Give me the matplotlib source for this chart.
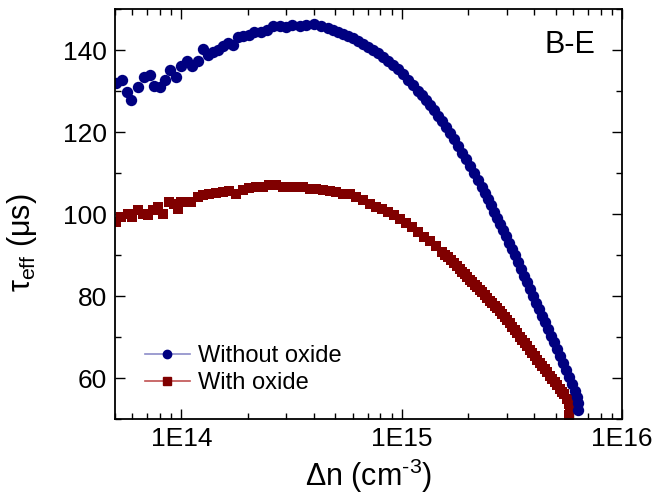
import matplotlib
matplotlib.use('Agg')
import matplotlib.pyplot as plt
from matplotlib.lines import Line2D
from matplotlib.ticker import MultipleLocator, LogLocator, NullFormatter

plt.rcParams['font.family'] = ['Liberation Sans', 'DejaVu Sans']
plt.rcParams['mathtext.fontset'] = 'custom'
plt.rcParams['mathtext.rm'] = 'Liberation Sans'
plt.rcParams['mathtext.it'] = 'Liberation Sans'

# without oxide (blue circles)
blue_x = [5.06e13, 5.38e13, 5.64e13, 5.93e13, 6.36e13, 6.74e13, 7.21e13, 7.54e13,
          8.00e13, 8.46e13, 8.91e13, 9.46e13, 9.97e13, 1.065e14, 1.118e14, 1.186e14,
          1.259e14, 1.317e14, 1.398e14, 1.462e14, 1.541e14, 1.635e14, 1.723e14, 1.803e14,
          1.913e14, 2.022e14, 2.147e14, 2.303e14, 2.442e14, 2.619e14, 2.790e14, 2.991e14,
          3.185e14, 3.440e14, 3.689e14, 3.981e14, 4.315e14, 4.61e14,
          4.86e14, 5.12e14, 5.39e14, 5.68e14, 5.99e14, 6.31e14, 6.65e14, 7.01e14,
          7.38e14, 7.78e14, 8.20e14, 8.64e14, 9.10e14, 9.59e14, 1.010e15, 1.065e15,
          1.122e15, 1.182e15,
          1.233e15, 1.286e15, 1.341e15, 1.398e15, 1.458e15, 1.520e15, 1.585e15, 1.653e15,
          1.723e15, 1.797e15, 1.874e15, 1.954e15, 2.038e15, 2.125e15, 2.216e15,
          2.310e15,
          2.384e15, 2.460e15, 2.538e15, 2.619e15, 2.703e15, 2.790e15, 2.878e15, 2.970e15,
          3.065e15, 3.162e15, 3.263e15, 3.368e15, 3.475e15, 3.586e15, 3.700e15, 3.818e15,
          3.940e15, 4.066e15, 4.195e15, 4.329e15, 4.467e15, 4.609e15, 4.756e15, 4.908e15,
          5.064e15, 5.226e15, 5.392e15, 5.564e15, 5.741e15, 5.924e15, 6.113e15,
          6.243e15, 6.342e15, 6.310e15]
blue_y = [132.0, 132.7, 129.8, 127.9, 130.9, 133.5, 133.9, 131.3,
          130.9, 132.7, 135.1, 133.4, 136.1, 137.3, 136.0, 137.3,
          140.3, 138.8, 139.4, 139.9, 141.0, 141.8, 141.1, 143.2,
          143.3, 143.6, 144.3, 144.4, 144.9, 145.8, 145.8, 145.6,
          146.2, 145.9, 146.2, 146.4, 145.8, 145.3,
          145.0, 144.5, 144.0, 143.5, 142.9, 142.2, 141.5, 140.8,
          140.0, 139.2, 138.3, 137.4, 136.4, 135.3, 134.1, 132.8,
          131.5, 130.1,
          129.0, 127.8, 126.5, 125.3, 124.0, 122.6, 121.2, 119.8,
          118.3, 116.7, 115.0, 113.4, 111.8, 110.1, 108.4,
          106.6,
          105.2, 103.7, 102.2, 100.6, 99.1, 97.6, 96.2, 94.6,
          93.0, 91.5, 89.9, 88.2, 86.6, 85.0, 83.3, 81.7,
          80.1, 78.4, 76.8, 75.2, 73.6, 71.9, 70.3, 68.7,
          67.0, 65.4, 63.7, 62.0, 60.3, 58.6, 56.9,
          55.4, 54.0, 52.3]

# with oxide (red squares)
red_x = [5.06e13, 5.32e13, 5.70e13, 6.00e13, 6.33e13, 6.67e13, 7.03e13, 7.41e13,
         7.80e13, 8.22e13, 8.82e13, 9.29e13, 9.62e13, 9.97e13, 1.050e14, 1.107e14,
         1.186e14, 1.250e14, 1.341e14, 1.438e14, 1.541e14, 1.653e14, 1.773e14, 1.899e14,
         2.038e14, 2.186e14, 2.342e14, 2.512e14, 2.694e14, 2.887e14, 3.097e14, 3.322e14,
         3.560e14, 3.818e14, 4.096e14, 4.388e14, 4.707e14, 5.049e14, 5.411e14, 5.803e14,
         6.224e14, 6.669e14, 7.153e14,
         7.62e14, 8.11e14, 8.64e14, 9.19e14, 9.79e14, 1.043e15, 1.110e15, 1.182e15,
         1.259e15, 1.341e15, 1.427e15,
         1.520e15, 1.569e15, 1.619e15, 1.670e15, 1.723e15, 1.778e15, 1.835e15, 1.884e15,
         1.934e15, 1.985e15, 2.038e15, 2.092e15, 2.147e15, 2.204e15, 2.262e15, 2.322e15,
         2.384e15, 2.447e15, 2.512e15, 2.579e15, 2.647e15, 2.717e15, 2.790e15, 2.863e15,
         2.939e15, 3.017e15, 3.097e15, 3.179e15, 3.263e15, 3.350e15, 3.440e15, 3.530e15,
         3.624e15, 3.720e15, 3.818e15, 3.919e15, 4.023e15, 4.130e15, 4.240e15, 4.351e15,
         4.467e15, 4.585e15, 4.707e15, 4.832e15, 4.960e15, 5.090e15, 5.226e15, 5.338e15,
         5.450e15, 5.623e15, 5.741e15, 5.832e15, 5.771e15]
red_y = [98.1, 99.3, 100.1, 99.3, 100.9, 100.1, 99.7, 100.9,
         101.7, 100.1, 102.9, 102.5, 101.3, 102.9, 102.9, 102.9,
         104.2, 104.6, 104.8, 105.1, 105.4, 105.6, 105.0, 105.9,
         106.4, 106.6, 106.7, 107.0, 107.0, 106.7, 106.7, 106.7,
         106.6, 106.2, 106.2, 105.8, 105.6, 105.4, 105.0, 104.8,
         104.2, 103.5, 102.5,
         101.8, 101.1, 100.4, 99.7, 98.9, 97.9, 96.9, 95.7,
         94.5, 93.3, 92.1,
         90.8, 90.1, 89.4, 88.7, 88.0, 87.3, 86.5, 85.9,
         85.3, 84.7, 84.0, 83.4, 82.8, 82.2, 81.5, 80.9,
         80.2, 79.6, 78.9, 78.3, 77.6, 77.0, 76.3, 75.6,
         74.8, 74.1, 73.3, 72.5, 71.7, 70.9, 70.1, 69.3,
         68.5, 67.7, 66.9, 66.1, 65.3, 64.5, 63.7, 63.0,
         62.2, 61.4, 60.6, 59.8, 59.0, 58.2, 57.4, 56.7,
         56.0, 54.9, 53.7, 52.6, 51.0]

x_ticks = [1e14, 1e15, 1e16]
x_tick_labels = ['1E14', '1E15', '1E16']

fig = plt.figure(figsize=(6.55, 5.0), dpi=100)
ax = fig.add_axes([0.1756, 0.162, 0.774, 0.820])

ax.plot(red_x, red_y, 's', color='#800000', ms=7.2, mew=0)
ax.plot(blue_x, blue_y, 'o', color='#000080', ms=8.2, mew=0)

ax.set_xscale('log')
ax.set_xlim(5e13, 1e16)
ax.set_ylim(50, 150)
ax.set_xticks(x_ticks)
ax.set_xticklabels(x_tick_labels)
ax.xaxis.set_minor_locator(LogLocator(base=10, subs=range(2, 10)))
ax.xaxis.set_minor_formatter(NullFormatter())
ax.yaxis.set_major_locator(MultipleLocator(20))
ax.yaxis.set_minor_locator(MultipleLocator(10))

ax.tick_params(which='both', direction='in', top=True, right=True, width=1.0,
               labelsize=19, pad=6)
ax.tick_params(which='major', length=7)
ax.tick_params(which='minor', length=4)
for s in ax.spines.values():
    s.set_linewidth(1.3)

ax.set_xlabel(r'$\Delta$n (cm$^{\text{-}3}$)', fontsize=22, labelpad=4)
ax.set_ylabel(r'$\tau_{\mathrm{eff}}$ ($\mu$s)', fontsize=22)
ax.yaxis.set_label_coords(-0.15, 0.43)

ax.text(0.897, 0.912, 'B-E', transform=ax.transAxes, fontsize=22,
        ha='center', va='center')

handles = [Line2D([], [], color='#8c8cc8', lw=1.2, marker='o', ms=6,
                  mfc='#000080', mec='#000080'),
           Line2D([], [], color='#c05050', lw=1.2, marker='s', ms=5.5,
                  mfc='#800000', mec='#800000')]
ax.legend(handles, ['Without oxide', 'With oxide'], loc='center left',
          bbox_to_anchor=(0.059, 0.12), frameon=False, fontsize=17,
          handlelength=1.9, handletextpad=0.35, labelspacing=0.2,
          borderpad=0, borderaxespad=0)

fig.savefig('out.png', dpi=100)
